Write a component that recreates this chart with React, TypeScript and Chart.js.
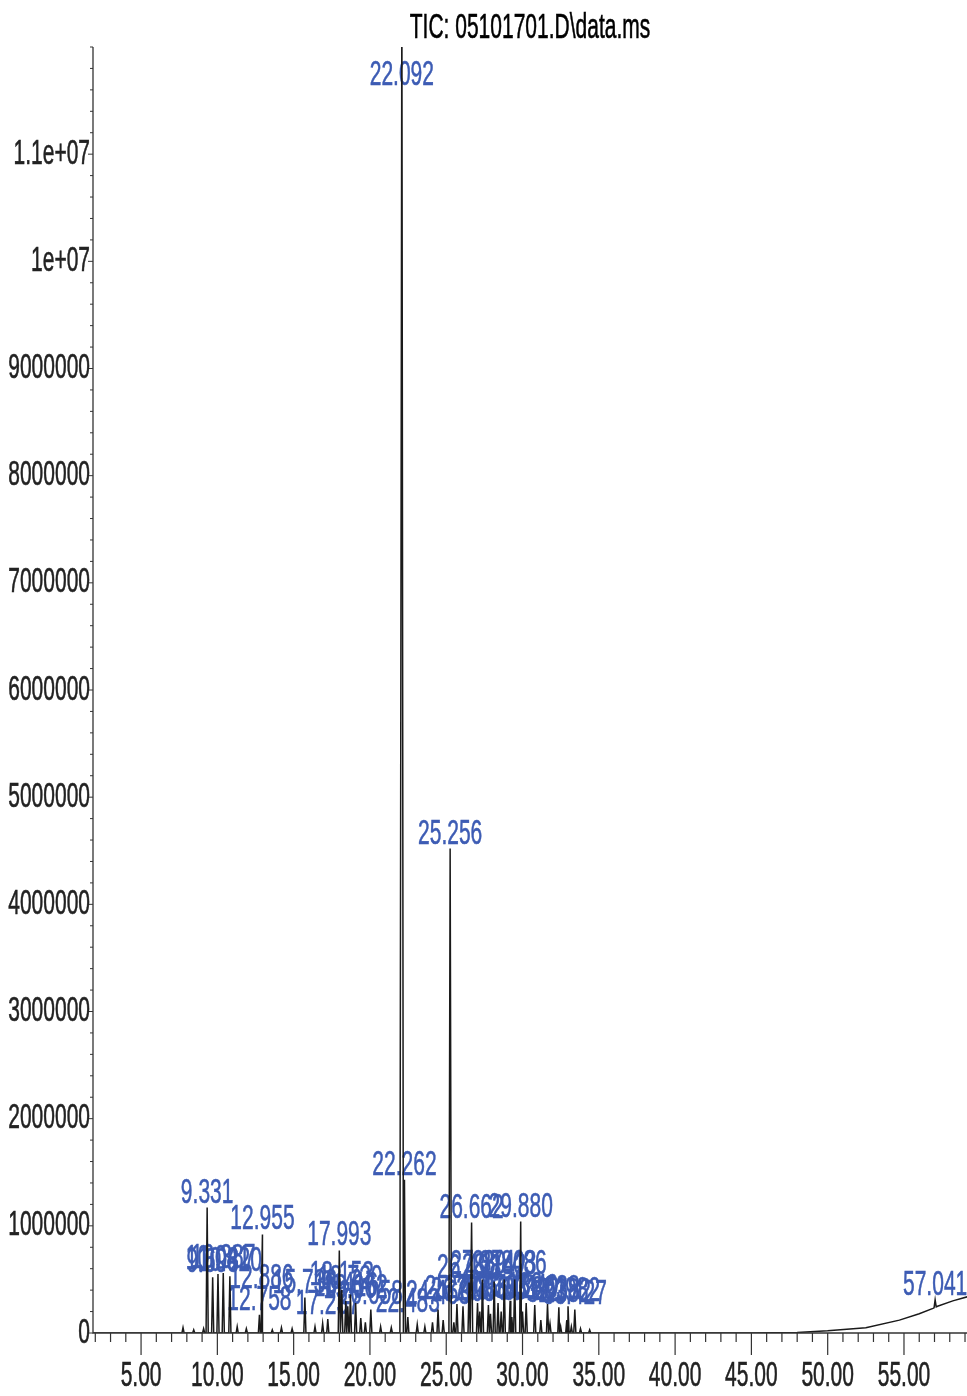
import React, { useEffect, useRef } from "react";
import { Chart, registerables } from "chart.js";

Chart.register(...registerables);

// ---- Data (retention time in minutes, abundance in counts) ----
const TITLE = "TIC: 05101701.D\\data.ms";

const LABELED_PEAK_TIMES = [
  9.331, 9.693, 10.041, 10.387, 10.82, 12.758, 12.886, 12.955, 15.736, 17.237,
  17.993, 18.153, 18.416, 18.72, 19.062, 20.058, 22.092, 22.262, 22.483, 24.463,
  25.256, 25.702, 26.098, 26.498, 26.662, 27.051, 27.374, 27.764, 28.142, 28.395,
  28.803, 29.186, 29.486, 29.88, 30.24, 30.801, 31.638, 32.382, 32.982, 33.427,
  57.041,
];
const LABELED_PEAK_HEIGHTS = [
  1170000, 520000, 550000, 560000, 530000, 170000, 370000, 920000, 330000, 130000,
  770000, 400000, 300000, 360000, 280000, 220000, 12600000, 1430000, 150000, 220000,
  4520000, 270000, 250000, 470000, 1030000, 280000, 500000, 260000, 480000, 280000,
  500000, 300000, 500000, 1040000, 280000, 260000, 270000, 240000, 250000, 220000,
  310000,
];
// peak half-width at base, minutes (the main peak is broader)
const LABELED_PEAK_HALF_WIDTHS = [
  0.07, 0.07, 0.07, 0.07, 0.07, 0.07, 0.07, 0.07, 0.07, 0.07,
  0.07, 0.07, 0.07, 0.07, 0.07, 0.07, 0.13, 0.07, 0.07, 0.07,
  0.08, 0.07, 0.07, 0.07, 0.07, 0.07, 0.07, 0.07, 0.07, 0.07,
  0.07, 0.07, 0.07, 0.07, 0.07, 0.07, 0.07, 0.07, 0.07, 0.07,
  0.07,
];

const SMALL_PEAK_TIMES = [
  7.75, 8.45, 9.1, 11.3, 11.9, 13.6, 14.2, 14.9, 16.4, 16.9, 18.55, 19.4, 19.7,
  20.7, 21.4, 23.1, 23.6, 24.1, 24.8, 25.5, 27.2, 27.9, 28.6, 29.3, 30.0, 31.2,
  31.8, 32.5, 32.9, 33.2, 33.8, 34.4,
];
const SMALL_PEAK_HEIGHTS = [
  50000, 30000, 40000, 60000, 40000, 30000, 50000, 40000, 60000, 90000, 250000,
  140000, 100000, 60000, 50000, 80000, 60000, 100000, 120000, 100000, 200000,
  180000, 200000, 150000, 200000, 120000, 90000, 60000, 120000, 60000, 40000, 30000,
];
const SMALL_PEAK_HALF_WIDTH = 0.07;

// column-bleed baseline drift at the end of the run
const BASELINE_TIMES = [1.85, 45.0, 48.0, 50.0, 52.5, 54.7, 56.0, 56.9, 57.2, 58.2, 59.2];
const BASELINE_VALUES = [0, 0, 5000, 20000, 50000, 120000, 180000, 230000, 250000, 300000, 340000];

const X_MIN = 1.85;
const X_MAX = 59.13;
const Y_MAX = 12000000;
const X_LABEL_TICKS = [5, 10, 15, 20, 25, 30, 35, 40, 45, 50, 55];
const X_MINOR_STEP = 1;
const Y_LABEL_TICKS = [0, 1e6, 2e6, 3e6, 4e6, 5e6, 6e6, 7e6, 8e6, 9e6, 1e7, 1.1e7];
const Y_MINOR_STEP = 200000;

function baselineAt(t: number): number {
  for (let i = 0; i < BASELINE_TIMES.length - 1; i++) {
    const a = BASELINE_TIMES[i];
    const b = BASELINE_TIMES[i + 1];
    if (t >= a && t <= b) {
      const f = (t - a) / (b - a);
      return BASELINE_VALUES[i] + f * (BASELINE_VALUES[i + 1] - BASELINE_VALUES[i]);
    }
  }
  return BASELINE_VALUES[BASELINE_VALUES.length - 1];
}

function buildTrace() {
  const pts: { x: number; y: number }[] = [];
  BASELINE_TIMES.forEach((t, i) => pts.push({ x: t, y: BASELINE_VALUES[i] }));
  const addPeak = (t: number, h: number, w: number) => {
    pts.push({ x: t - w, y: baselineAt(t - w) });
    pts.push({ x: t, y: h });
    pts.push({ x: t + w, y: baselineAt(t + w) });
  };
  LABELED_PEAK_TIMES.forEach((t, i) =>
    addPeak(t, LABELED_PEAK_HEIGHTS[i], LABELED_PEAK_HALF_WIDTHS[i])
  );
  SMALL_PEAK_TIMES.forEach((t, i) => addPeak(t, SMALL_PEAK_HEIGHTS[i], SMALL_PEAK_HALF_WIDTH));
  pts.sort((a, b) => a.x - b.x);
  return pts;
}

const FONT = '35px "Liberation Sans", Arial, sans-serif';
const SQUEEZE = 0.6;
const LABEL_COLOR = "#3d5cb4";
const TEXT_COLOR = "#222";
const AXIS_COLOR = "#333";

function drawText(
  ctx: CanvasRenderingContext2D,
  text: string,
  x: number,
  y: number,
  align: CanvasTextAlign,
  baseline: CanvasTextBaseline,
  color: string
) {
  ctx.save();
  ctx.translate(x, y);
  ctx.scale(SQUEEZE, 1);
  ctx.font = FONT;
  ctx.fillStyle = color;
  ctx.strokeStyle = color;
  ctx.lineWidth = 0.6;
  ctx.textAlign = align;
  ctx.textBaseline = baseline;
  ctx.fillText(text, 0, 0);
  ctx.strokeText(text, 0, 0);
  ctx.restore();
}

function yLabel(v: number): string {
  if (v === 1e7) return "1e+07";
  if (v === 1.1e7) return "1.1e+07";
  return String(v);
}

const peakLabelPlugin = {
  id: "peakLabels",
  beforeDatasetsDraw(chart: any) {
    const { ctx, chartArea, scales } = chart;
    const xs = scales.x;
    const ys = scales.y;
    LABELED_PEAK_TIMES.forEach((t, i) => {
      const px = xs.getPixelForValue(t);
      const py = ys.getPixelForValue(LABELED_PEAK_HEIGHTS[i]);
      const base = Math.max(py - 5, chartArea.top + 38);
      drawText(ctx, t.toFixed(3), px, base, "center", "alphabetic", LABEL_COLOR);
    });
  },
};

const axesPlugin = {
  id: "chromAxes",
  afterDraw(chart: any) {
    const { ctx, chartArea, scales } = chart;
    const xs = scales.x;
    const ys = scales.y;
    const left = chartArea.left;
    const bottom = chartArea.bottom;
    ctx.save();
    ctx.strokeStyle = AXIS_COLOR;
    ctx.lineWidth = 1.3;
    ctx.beginPath();
    ctx.moveTo(left, chartArea.top);
    ctx.lineTo(left, bottom);
    ctx.lineTo(chartArea.right, bottom);
    ctx.stroke();

    // x ticks
    ctx.lineWidth = 1.2;
    ctx.beginPath();
    for (let t = Math.ceil(X_MIN); t <= X_MAX; t += X_MINOR_STEP) {
      const px = xs.getPixelForValue(t);
      const major = X_LABEL_TICKS.includes(t);
      ctx.moveTo(px, bottom);
      ctx.lineTo(px, bottom + (major ? 22 : 9));
    }
    ctx.stroke();

    // y ticks
    ctx.lineWidth = 1;
    ctx.beginPath();
    for (let v = 0; v <= Y_MAX; v += Y_MINOR_STEP) {
      const py = ys.getPixelForValue(v);
      const major = Y_LABEL_TICKS.includes(v);
      ctx.moveTo(left, py);
      ctx.lineTo(left - (major ? 5 : 3), py);
    }
    ctx.stroke();
    ctx.restore();

    X_LABEL_TICKS.forEach((t) => {
      drawText(ctx, t.toFixed(2), xs.getPixelForValue(t), bottom + 43, "center", "middle", TEXT_COLOR);
    });
    Y_LABEL_TICKS.forEach((v) => {
      drawText(ctx, yLabel(v), left - 3, ys.getPixelForValue(v), "right", "middle", TEXT_COLOR);
    });

    drawText(ctx, TITLE, (chartArea.left + chartArea.right) / 2, 28, "center", "middle", "#000");
  },
};

export default function App() {
  const canvasRef = useRef<HTMLCanvasElement | null>(null);

  useEffect(() => {
    document.body.style.margin = "0";
    const canvas = canvasRef.current;
    if (!canvas) return;
    const chart = new Chart(canvas, {
      type: "line",
      data: {
        datasets: [
          {
            data: buildTrace(),
            borderColor: "#1a1a1a",
            borderWidth: 1.5,
            pointRadius: 0,
            tension: 0,
            fill: false,
          },
        ],
      },
      options: {
        responsive: false,
        animation: false,
        layout: { padding: { left: 93, right: 0, top: 47, bottom: 63 } },
        scales: {
          x: { type: "linear", min: X_MIN, max: X_MAX, display: false },
          y: { type: "linear", min: 0, max: Y_MAX, display: false },
        },
        plugins: {
          legend: { display: false },
          tooltip: { enabled: false },
          title: { display: false },
        },
      },
      plugins: [peakLabelPlugin, axesPlugin],
    } as any);
    return () => chart.destroy();
  }, []);

  return (
    <div style={{ width: 967, height: 1396, background: "#fff" }}>
      <canvas ref={canvasRef} width={967} height={1396} style={{ display: "block" }} />
    </div>
  );
}
